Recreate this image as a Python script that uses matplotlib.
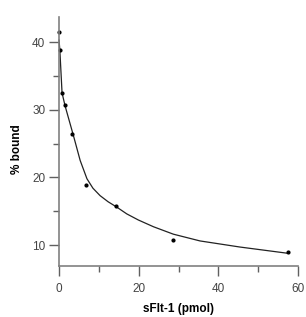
import numpy as np
import matplotlib.pyplot as plt
from matplotlib.ticker import MultipleLocator

plt.rcParams['font.family'] = ['Liberation Sans', 'DejaVu Sans']

# measured points
sflt = [0.0, 0.2, 0.75, 1.5, 3.3, 6.8, 14.2, 28.7, 57.6]
bound = [41.5, 38.9, 32.5, 30.7, 26.4, 18.8, 15.7, 10.7, 8.9]

# fitted curve
fit_x = [0.0, 0.2, 0.75, 1.5, 2.5, 3.6, 5.3, 7.0, 8.5, 10.3, 12.3, 14.5, 17.0,
         19.9, 23.7, 28.7, 35.4, 45.4, 57.1]
fit_y = [40.3, 38.8, 32.5, 30.6, 28.5, 26.2, 22.5, 19.8, 18.4, 17.3, 16.4, 15.6, 14.6,
         13.7, 12.7, 11.6, 10.6, 9.7, 8.8]

fig = plt.figure(figsize=(3.06, 3.17), dpi=100)
ax = fig.add_axes([0.193, 0.161, 0.781, 0.785])

ax.plot(fit_x, fit_y, color='#222222', lw=0.9, clip_on=False)
ax.plot(sflt, bound, 'o', color='black', ms=2.0, clip_on=False)

ax.set_xlim(0, 60)
ax.set_ylim(6.9, 43.7)
ax.xaxis.set_major_locator(MultipleLocator(20))
ax.xaxis.set_minor_locator(MultipleLocator(10))
ax.yaxis.set_major_locator(MultipleLocator(10))
ax.yaxis.set_minor_locator(MultipleLocator(5))

for s in ['top', 'right']:
    ax.spines[s].set_visible(False)
for s in ['left', 'bottom']:
    ax.spines[s].set_color('#808080')
    ax.spines[s].set_linewidth(1.2)

ax.tick_params(which='major', length=7, width=1, color='#606060', labelsize=8.5, labelcolor='#444444')
ax.tick_params(which='minor', length=4.5, width=1, color='#606060')
ax.tick_params(axis='x', pad=5)
ax.tick_params(axis='y', pad=3)

ax.set_xlabel('sFlt-1 (pmol)', fontsize=8.5, fontweight='bold', labelpad=6)
ax.set_ylabel('% bound', fontsize=8.5, fontweight='bold')
ax.yaxis.set_label_coords(-0.15, 0.47)

fig.savefig('out.png', dpi=100)
